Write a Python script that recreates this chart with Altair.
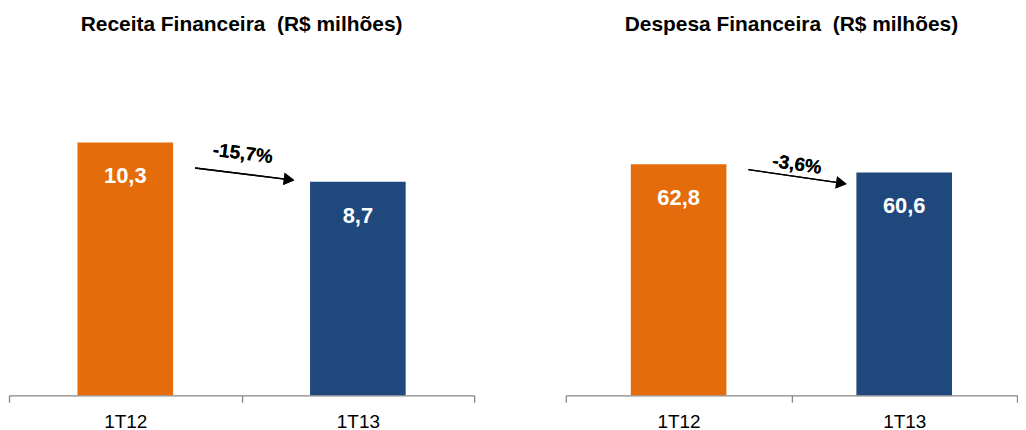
import altair as alt
import pandas as pd

# ---- data ----
periods = ["1T12", "1T13"]
receita = [10.3, 8.7]
despesa = [62.8, 60.6]
receita_labels = ["10,3", "8,7"]
despesa_labels = ["62,8", "60,6"]
titles = ["Receita Financeira\u00a0\u00a0(R$ milhões)", "Despesa Financeira\u00a0\u00a0(R$ milhões)"]
variations = ["-15,7%", "-3,6%"]
# annotation arrow (in data units of each panel)
arrow_start = [9.26, 61.37]
arrow_end = [8.79, 57.7]
var_text_y = [9.85, 62.8]
arrow_angle = [7.2, 8.2]
y_max = [14, 93.45]

COLORS = ["#E46C0A", "#1F497D"]
FONT = "Liberation Sans"
H = 345


def panel(i, values, labels, width, head_off, text_off):
    df = pd.DataFrame({"period": periods, "value": values, "label": labels})
    x = alt.X(
        "period:N",
        sort=periods,
        scale=alt.Scale(paddingInner=0, paddingOuter=0),
        axis=alt.Axis(
            title=None, labelAngle=0, domainColor="#868686", domainWidth=1.3,
            tickColor="#868686", tickWidth=1.3, tickSize=7, tickBand="extent",
            labelFontSize=19, labelFont=FONT, labelColor="black", labelPadding=10,
            grid=False,
        ),
    )
    yscale = alt.Scale(domain=[0, y_max[i]], nice=False, zero=True)
    y = alt.Y("value:Q", scale=yscale, axis=None)
    base = alt.Chart(df)
    bars = base.mark_bar(width=96).encode(
        x=x,
        y=y,
        color=alt.Color("period:N", scale=alt.Scale(domain=periods, range=COLORS), legend=None),
    )
    text = base.mark_text(
        color="white", fontSize=22, fontWeight="bold", font=FONT, baseline="middle", dy=34
    ).encode(x=x, y=y, text="label:N")
    rule = alt.Chart(df).mark_rule(
        color="black", strokeWidth=1.3, xOffset=70, x2Offset=head_off
    ).encode(
        x=alt.datum(periods[0]), x2=alt.datum(periods[1]),
        y=alt.datum(arrow_start[i]), y2=alt.datum(arrow_end[i]),
    )
    head = alt.Chart(df).mark_point(
        shape="triangle-right", filled=True, size=150, color="black", opacity=1,
        angle=arrow_angle[i], xOffset=head_off,
    ).encode(x=alt.datum(periods[1]), y=alt.datum(arrow_end[i]))
    vtext = alt.Chart(df).mark_text(
        text=variations[i], fontSize=19, fontWeight="bold", font=FONT,
        angle=int(round(arrow_angle[i])), baseline="middle", xOffset=text_off, color="black",
    ).encode(x=alt.datum(periods[0]), y=alt.datum(var_text_y[i]))
    return alt.layer(bars, text, rule, head, vtext).properties(
        width=width, height=H,
        title=alt.TitleParams(
            titles[i], fontSize=21, font=FONT, fontWeight="bold", color="black",
            offset=17, anchor="middle",
        ),
    )


left = panel(0, receita, receita_labels, 467, -69, 118)
right = panel(1, despesa, despesa_labels, 453, -63, 119)

chart = alt.hconcat(left, right, spacing=90).properties(
    padding={"left": 0, "top": 5, "right": 0, "bottom": 0}
).configure_view(stroke=None)

chart.save("out.html", embed_options={"renderer": "svg", "actions": False})
